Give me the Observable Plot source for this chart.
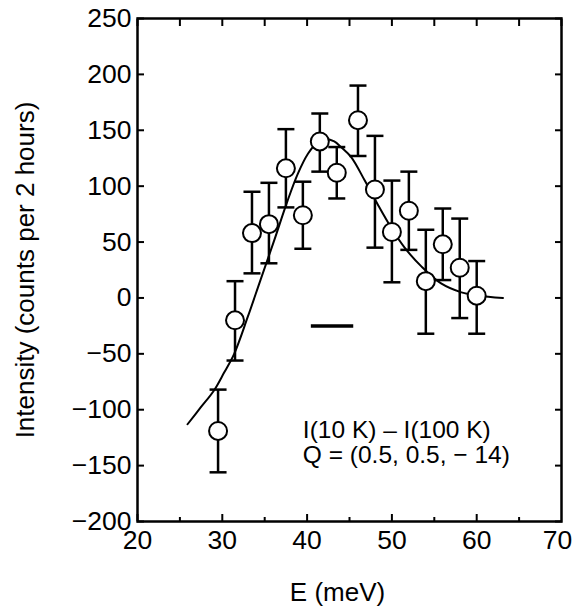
<!DOCTYPE html>
<html><head><meta charset="utf-8">
<script src="https://cdn.jsdelivr.net/npm/d3@7"></script>
<script src="https://cdn.jsdelivr.net/npm/@observablehq/plot@0.6"></script>
<style>body{margin:0;background:#fff}</style>
</head><body><div id="chart"></div>
<script>
// Measured data points: energy (meV), intensity, error-bar low/high
const energy    = [29.5, 31.5, 33.5, 35.5, 37.5, 39.5, 41.5, 43.5, 46.0, 48.0, 50.0, 52.0, 54.0, 56.0, 58.0, 60.0];
const intensity = [-119, -20, 58, 66, 116, 74, 140, 112, 159, 97, 59, 78, 15, 48, 27, 2];
const errLow    = [-156, -56, 22, 31, 81, 44, 113, 89, 127, 45, 14, 43, -32, 16, -18, -32];
const errHigh   = [-82, 15, 95, 103, 151, 104, 165, 135, 190, 145, 105, 113, 61, 80, 71, 33];

// Fitted curve
const fitEnergy    = [25.9, 27.45, 29.0, 30.2, 31.4, 33.0, 34.5, 36.1, 37.7, 38.9, 40.1, 41.2, 42.2, 43.2, 44.0, 45.2, 46.8, 48.3, 49.9, 51.5, 53.5, 55.8, 58.2, 60.2, 63.1];
const fitIntensity = [-113, -98, -83, -67, -50, -17, 16, 51, 87, 111, 129, 139, 142, 140, 135, 126, 105, 84, 63, 45, 28, 13, 5, 2, 0];

// Resolution bar
const resolution = [{e1: 40.5, e2: 45.5, intensity: -25}];

const xTicksMajor = [20, 30, 40, 50, 60, 70];
const xTicksMinor = [25, 35, 45, 55, 65];
const yTicks = [-200, -150, -100, -50, 0, 50, 100, 150, 200, 250];
const annotation = ["I(10 K) – I(100 K)", "Q = (0.5, 0.5, − 14)"];
const xLabel = "E (meV)";
const yLabel = "Intensity (counts per 2 hours)";

const points = energy.map((e, i) => ({e, v: intensity[i], lo: errLow[i], hi: errHigh[i]}));
const fit = fitEnergy.map((e, i) => ({e, v: fitIntensity[i]}));

const capSymbol = {
  draw(ctx, size) {
    const w = Math.sqrt(size / Math.PI);
    ctx.moveTo(-w, 0);
    ctx.lineTo(w, 0);
  }
};

const tickFont = 26.5;

const chart = Plot.plot({
  width: 572,
  height: 610,
  marginLeft: 137,
  marginRight: 11,
  marginTop: 18,
  marginBottom: 89,
  style: {fontFamily: "'Liberation Sans', Arial, sans-serif", fontSize: "26px", color: "black", background: "white"},
  x: {domain: [20, 70]},
  y: {domain: [-200, 250]},
  marks: [
    Plot.axisX({ticks: xTicksMajor.slice(0, -1), anchor: "bottom", tickSize: -7, tickPadding: 16, strokeWidth: 2, fontSize: tickFont, label: null}),
    Plot.axisX({ticks: xTicksMajor.slice(-1), anchor: "bottom", tickSize: 0, tickPadding: 9, dx: -4, fontSize: tickFont, label: null}),
    Plot.axisX({ticks: xTicksMinor, anchor: "bottom", tickSize: -4, fill: "none", strokeWidth: 2, label: null}),
    Plot.axisX({ticks: xTicksMajor.concat(xTicksMinor), anchor: "top", tickSize: -7, fill: "none", strokeWidth: 2, label: null}),
    Plot.axisY({ticks: yTicks, anchor: "left", tickSize: -7, tickPadding: 13, strokeWidth: 2, fontSize: tickFont, label: null}),
    Plot.axisY({ticks: yTicks, anchor: "right", tickSize: -7, fill: "none", strokeWidth: 2, label: null}),
    Plot.frame({stroke: "black", strokeWidth: 2.5}),
    Plot.line(fit, {x: "e", y: "v", curve: "catmull-rom", stroke: "black", strokeWidth: 2}),
    Plot.ruleX(points, {x: "e", y1: "lo", y2: "hi", stroke: "black", strokeWidth: 2.5}),
    Plot.dot(points, {x: "e", y: "lo", symbol: capSymbol, r: 8.5, fill: "none", stroke: "black", strokeWidth: 2.5}),
    Plot.dot(points, {x: "e", y: "hi", symbol: capSymbol, r: 8.5, fill: "none", stroke: "black", strokeWidth: 2.5}),
    Plot.dot(points, {x: "e", y: "v", r: 9, fill: "white", stroke: "black", strokeWidth: 2}),
    Plot.ruleY(resolution, {y: "intensity", x1: "e1", x2: "e2", stroke: "black", strokeWidth: 3.5}),
    Plot.text([annotation.join("\n")], {x: 39.5, y: -110, text: d => d, textAnchor: "start", lineAnchor: "top", lineHeight: 1.0, fontSize: 24.5, fill: "black"}),
    Plot.text([xLabel], {frameAnchor: "bottom", text: d => d, dy: 71, dx: -12, textAnchor: "middle", lineAnchor: "middle", fontSize: 26, fill: "black"}),
    Plot.text([yLabel], {frameAnchor: "left", text: d => d, rotate: -90, dx: -112, textAnchor: "middle", lineAnchor: "middle", fontSize: 26, fill: "black"})
  ]
});
document.getElementById("chart").append(chart);
</script>
</body></html>
